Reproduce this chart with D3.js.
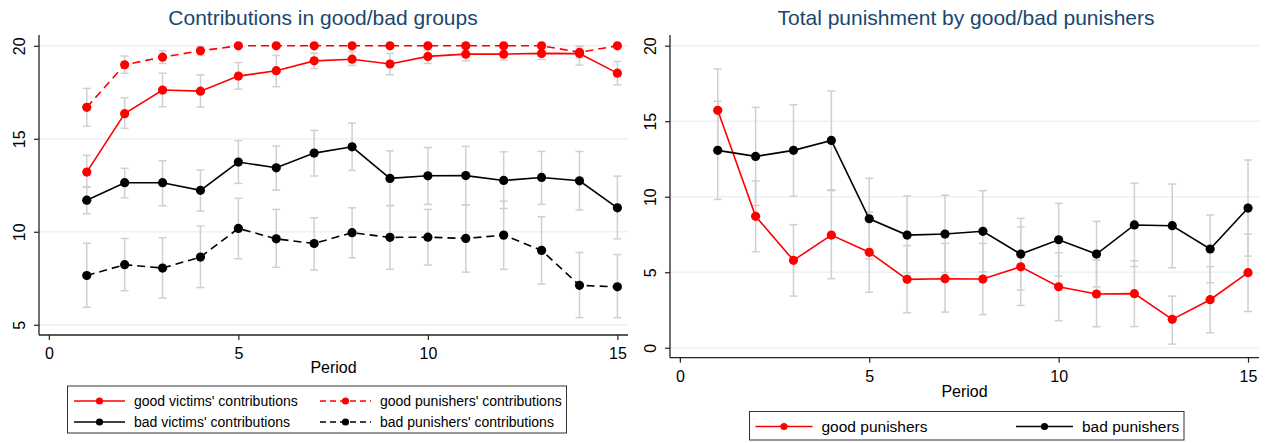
<!DOCTYPE html>
<html>
<head>
<meta charset="utf-8">
<script src="https://cdn.jsdelivr.net/npm/d3@7"></script>
<style>
  body { margin: 0; background: #fff; }
  svg text { font-family: "Liberation Sans", Arial, sans-serif; }
</style>
</head>
<body>
<svg id="chart" width="1270" height="443"></svg>
<script>
// data
var periods = [1,2,3,4,5,6,7,8,9,10,11,12,13,14,15];

// left panel: contributions
var goodVictims   = [13.21,16.35,17.62,17.56,18.37,18.66,19.19,19.28,19.02,19.43,19.55,19.55,19.59,19.58,18.53];
var goodVictimsHi = [14.11,17.2,18.53,18.44,19.1,19.48,19.6,19.7,19.59,19.78,19.85,19.85,19.87,20.0,19.16];
var goodVictimsLo = [12.4,15.56,16.72,16.7,17.67,17.8,18.77,18.95,18.44,19.05,19.2,19.23,19.27,18.96,17.9];

var goodPunishers   = [16.69,18.98,19.39,19.73,20,20,20,20,20,20,20,20,20,19.65,20];
var goodPunishersHi = [17.71,19.45,19.73,19.95,20,20,20,20,20,20,20,20,20,19.95,20];
var goodPunishersLo = [15.68,18.52,19.05,19.5,20,20,20,20,20,20,20,20,20,19.35,20];

var badVictims   = [11.7,12.64,12.64,12.23,13.75,13.44,14.23,14.57,12.87,13.01,13.02,12.76,12.92,12.74,11.29];
var badVictimsHi = [12.42,13.41,13.82,13.32,14.9,14.61,15.45,15.84,14.35,14.53,14.59,14.3,14.32,14.32,12.99];
var badVictimsLo = [10.97,11.83,11.4,11.11,12.6,12.24,13.0,13.3,11.4,11.47,11.45,11.25,11.47,11.17,9.62];

var badPunishers   = [7.65,8.23,8.05,8.64,10.18,9.62,9.37,9.95,9.7,9.71,9.64,9.82,9.0,7.12,7.04];
var badPunishersHi = [9.38,9.64,9.68,10.31,11.8,11.2,10.75,11.29,11.42,11.2,11.45,11.65,10.81,8.89,8.78];
var badPunishersLo = [5.94,6.83,6.44,7.0,8.55,8.09,7.94,8.6,7.98,8.21,7.83,7.98,7.19,5.38,5.38];

// right panel: punishment
var goodPun   = [15.72,8.7,5.79,7.46,6.32,4.53,4.57,4.55,5.36,4.04,3.56,3.58,1.88,3.18,4.97];
var goodPunHi = [18.46,11.04,8.15,10.4,8.99,6.76,6.91,6.91,8.0,6.29,5.81,5.76,3.42,5.37,7.53];
var goodPunLo = [12.98,6.36,3.42,4.57,3.67,2.32,2.36,2.19,2.8,1.79,1.39,1.4,0.24,0.99,2.4];

var badPun   = [13.07,12.67,13.07,13.73,8.54,7.46,7.53,7.71,6.2,7.15,6.2,8.13,8.08,6.54,9.25];
var badPunHi = [16.32,15.92,16.09,17.0,11.22,10.05,10.11,10.4,8.57,9.56,8.37,10.89,10.84,8.79,12.43];
var badPunLo = [9.82,9.42,10.03,10.46,5.88,4.97,4.97,5.02,3.82,4.74,4.03,5.37,5.3,4.3,6.07];

var xTicks = [0,5,10,15];
var leftYTicks = [5,10,15,20];
var rightYTicks = [0,5,10,15,20];

var leftTitle = "Contributions in good/bad groups";
var rightTitle = "Total punishment by good/bad punishers";
var xLabel = "Period";

var leftSeries = [
  {name: "good victims' contributions",   mean: goodVictims,   lo: goodVictimsLo,   hi: goodVictimsHi,   color: "#ff0000", dash: null},
  {name: "good punishers' contributions", mean: goodPunishers, lo: goodPunishersLo, hi: goodPunishersHi, color: "#ff0000", dash: "8,5"},
  {name: "bad victims' contributions",    mean: badVictims,    lo: badVictimsLo,    hi: badVictimsHi,    color: "#000000", dash: null},
  {name: "bad punishers' contributions",  mean: badPunishers,  lo: badPunishersLo,  hi: badPunishersHi,  color: "#000000", dash: "8,5"}
];
var rightSeries = [
  {name: "good punishers", mean: goodPun, lo: goodPunLo, hi: goodPunHi, color: "#ff0000", dash: null},
  {name: "bad punishers",  mean: badPun,  lo: badPunLo,  hi: badPunHi,  color: "#000000", dash: null}
];

var svg = d3.select("#chart");
var gridColor = "#eaf2f3", barColor = "#d0d0d0", titleColor = "#1a476f", axisColor = "#222";

function drawPanel(cfg) {
  var x = d3.scaleLinear().domain(cfg.xDomain).range([cfg.left, cfg.right]);
  var y = d3.scaleLinear().domain(cfg.yDomain).range([cfg.bottom, cfg.top]);
  var g = svg.append("g");

  // grid
  g.selectAll(".grid").data(cfg.yTicks).enter().append("line")
    .attr("x1", cfg.left).attr("x2", cfg.right)
    .attr("y1", function (d) { return y(d); }).attr("y2", function (d) { return y(d); })
    .attr("stroke", gridColor).attr("stroke-width", 1.5);

  // axes
  var yAxis = g.append("g").attr("transform", "translate(" + cfg.left + ",0)")
    .call(d3.axisLeft(y).tickValues(cfg.yTicks).tickSize(5).tickSizeOuter(0));
  yAxis.selectAll(".tick line").attr("stroke", axisColor).attr("stroke-width", 1.2);
  yAxis.selectAll("text")
    .attr("x", null).attr("dy", null)
    .attr("transform", "translate(-14,0) rotate(-90)")
    .attr("text-anchor", "middle")
    .attr("font-size", 16).attr("fill", "#000");

  var xAxis = g.append("g").attr("transform", "translate(0," + cfg.bottom + ")")
    .call(d3.axisBottom(x).tickValues(xTicks).tickSize(5).tickPadding(8).tickSizeOuter(0));
  xAxis.selectAll(".tick line").attr("stroke", axisColor).attr("stroke-width", 1.2);
  xAxis.selectAll("text").attr("font-size", 16).attr("fill", "#000");
  g.selectAll(".domain").remove();
  // axis lines spanning the full plot region
  g.append("line").attr("x1", cfg.left).attr("x2", cfg.left).attr("y1", cfg.top).attr("y2", cfg.bottom)
    .attr("stroke", axisColor).attr("stroke-width", 1.3);
  g.append("line").attr("x1", cfg.left).attr("x2", cfg.right).attr("y1", cfg.bottom).attr("y2", cfg.bottom)
    .attr("stroke", axisColor).attr("stroke-width", 1.3);

  // title and x label
  g.append("text").attr("x", cfg.titleX).attr("y", 25)
    .attr("text-anchor", "middle").attr("font-size", 21).attr("fill", titleColor).text(cfg.title);
  g.append("text").attr("x", (cfg.left + cfg.right) / 2).attr("y", cfg.xLabelY)
    .attr("text-anchor", "middle").attr("font-size", 16).attr("fill", "#000").text(xLabel);

  // error bars
  cfg.series.forEach(function (s) {
    var bars = g.append("g").selectAll("g").data(periods).enter().append("g");
    bars.append("line")
      .attr("x1", function (p) { return x(p); }).attr("x2", function (p) { return x(p); })
      .attr("y1", function (p, i) { return y(s.lo[i]); }).attr("y2", function (p, i) { return y(s.hi[i]); })
      .attr("stroke", barColor).attr("stroke-width", 1.5);
    [s.lo, s.hi].forEach(function (arr) {
      bars.append("line")
        .attr("x1", function (p) { return x(p) - 4; }).attr("x2", function (p) { return x(p) + 4; })
        .attr("y1", function (p, i) { return y(arr[i]); }).attr("y2", function (p, i) { return y(arr[i]); })
        .attr("stroke", barColor).attr("stroke-width", 1.5);
    });
  });

  // lines and markers
  cfg.series.forEach(function (s) {
    var line = d3.line().x(function (p) { return x(p); }).y(function (p, i) { return y(s.mean[i]); });
    g.append("path").datum(periods).attr("d", line)
      .attr("fill", "none").attr("stroke", s.color).attr("stroke-width", 1.6)
      .attr("stroke-dasharray", s.dash);
    g.append("g").selectAll("circle").data(periods).enter().append("circle")
      .attr("cx", function (p) { return x(p); }).attr("cy", function (p, i) { return y(s.mean[i]); })
      .attr("r", 4.6).attr("fill", s.color);
  });

  // legend
  var lg = cfg.legend;
  g.append("rect").attr("x", lg.x).attr("y", lg.y).attr("width", lg.w).attr("height", lg.h)
    .attr("fill", "#fff").attr("stroke", "#333").attr("stroke-width", 1);
  cfg.series.forEach(function (s, i) {
    var col = i % lg.cols, row = Math.floor(i / lg.cols);
    var lx = lg.x + lg.pad + col * lg.colW, ly = lg.rowY[row];
    g.append("line").attr("x1", lx).attr("x2", lx + lg.lineLen).attr("y1", ly).attr("y2", ly)
      .attr("stroke", s.color).attr("stroke-width", 1.3).attr("stroke-dasharray", s.dash ? "6,4" : null);
    g.append("circle").attr("cx", lx + lg.lineLen / 2).attr("cy", ly).attr("r", 3.6).attr("fill", s.color);
    g.append("text").attr("x", lx + lg.textOff).attr("y", ly + lg.font * 0.36)
      .attr("font-size", lg.font).attr("fill", "#000").text(s.name);
  });
}

drawPanel({
  left: 39, right: 628, top: 35, bottom: 335,
  xDomain: [-0.26, 15.28], yDomain: [4.45, 20.58], yTicks: leftYTicks,
  xLabelY: 373, title: leftTitle, titleX: 323, series: leftSeries,
  legend: {x: 67.5, y: 386, w: 499, h: 47, pad: 6.5, cols: 2, colW: 246, rowY: [401, 422],
           lineLen: 51, textOff: 60, font: 14}
});

drawPanel({
  left: 670, right: 1259, top: 35, bottom: 357.7,
  xDomain: [-0.26, 15.29], yDomain: [-0.66, 20.71], yTicks: rightYTicks,
  xLabelY: 396.5, title: rightTitle, titleX: 966, series: rightSeries,
  legend: {x: 749.5, y: 411.5, w: 434.5, h: 28.5, pad: 6, cols: 2, colW: 260.5, rowY: [426.5],
           lineLen: 57, textOff: 66, font: 15.5}
});
</script>
</body>
</html>
